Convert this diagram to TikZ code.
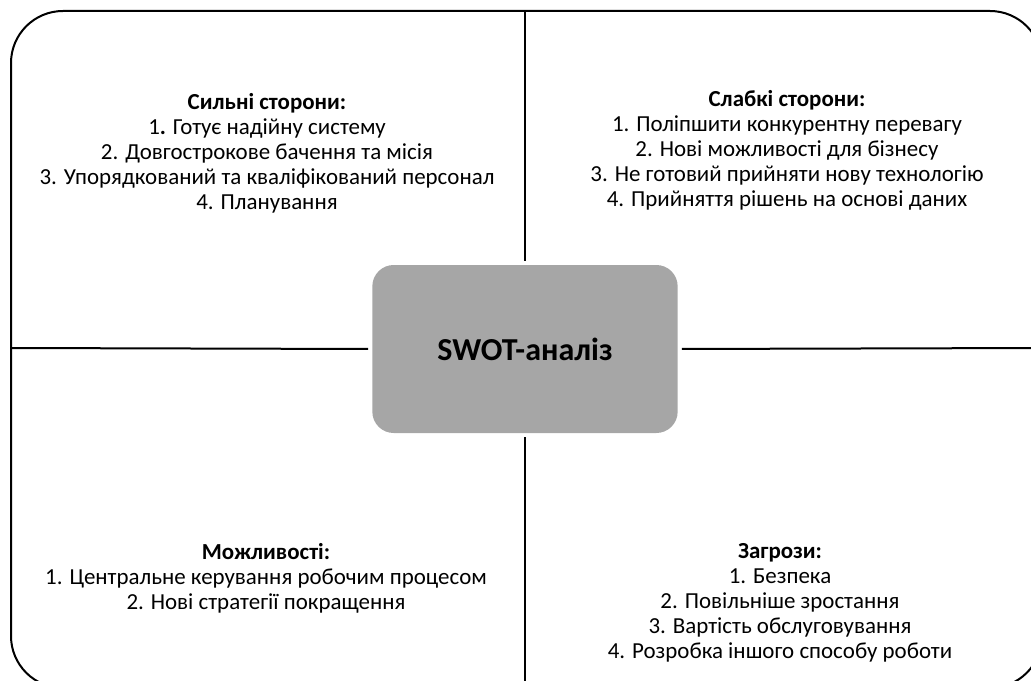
\documentclass[tikz,border=0pt]{standalone}
\usepackage{fontspec}
\setmainfont{Carlito}
\definecolor{hubgray}{HTML}{A6A6A6}
\tikzset{
  quad/.style={align=center, font=\fontsize{17.2pt}{18.75pt}\selectfont},
  hub/.style={fill=hubgray, rounded corners=16pt, minimum width=229pt,
    minimum height=126pt, font=\fontsize{24pt}{28pt}\selectfont\bfseries},
  rule/.style={line width=1.5pt}
}
\begin{document}
\begin{tikzpicture}[x=0.75pt, y=-0.75pt]
	\useasboundingbox (0,0) rectangle (1031,681);
	\clip (0,0) rectangle (1031,681);
	% outer frame
	\draw[rule, rounded corners=39pt] (11,11) rectangle (1042,688);
	\node[hub] (swot) at (525,349) {SWOT-аналіз};
	\coordinate (up) at (525,11);
	\coordinate (down) at (525,688);
	\coordinate (left) at (11,348);
	\coordinate (right) at (1042,348);
	\draw[rule, shorten >=3pt] (up) -- (swot.north);
	\draw[rule, shorten <=3pt] (swot.south) -- (down);
	\draw[rule, shorten >=3pt] (left) -- (swot.west);
	\draw[rule, shorten <=3pt] (swot.east) -- (right);
	% quadrants
	\node[quad] (strong) at (267,153) {\textbf{Сильні сторони:}\\1\textbf{.} Готує надійну систему\\2. Довгострокове бачення та місія\\3. Упорядкований та кваліфікований персонал\\4. Планування};
	\node[quad] (weak) at (787,150) {\textbf{Слабкі сторони:}\\1. Поліпшити конкурентну перевагу\\2. Нові можливості для бізнесу\\3. Не готовий прийняти нову технологію\\4. Прийняття рішень на основі даних};
	\node[quad] (chance) at (266,578) {\textbf{Можливості:}\\1. Центральне керування робочим процесом\\2. Нові стратегії покращення};
	\node[quad] (threat) at (780,603) {\textbf{Загрози:}\\1. Безпека\\2. Повільніше зростання\\3. Вартість обслуговування\\4. Розробка іншого способу роботи};
\end{tikzpicture}
\end{document}
